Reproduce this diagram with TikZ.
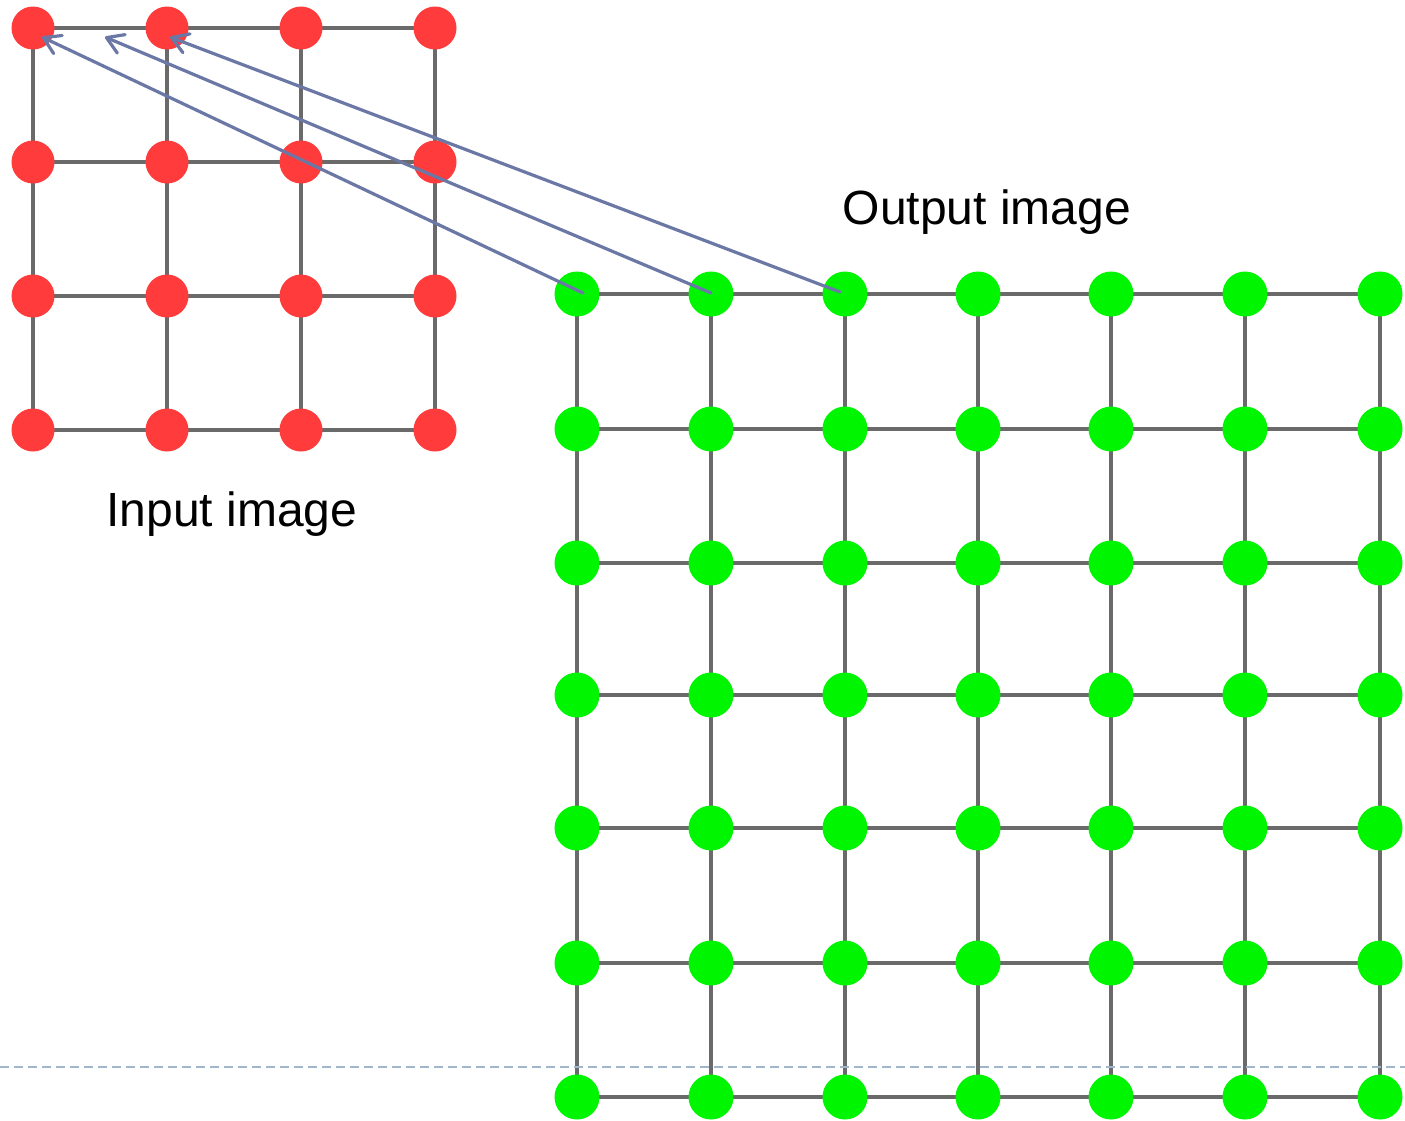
\documentclass[tikz,border=0pt]{standalone}
\usepackage{fontspec}
\setmainfont{Liberation Sans}
\usetikzlibrary{arrows.meta}
\definecolor{reddot}{HTML}{FF3B3B}
\definecolor{greendot}{HTML}{00F500}
\definecolor{gridgray}{HTML}{6A6A6A}
\definecolor{arrowblue}{HTML}{6B78A6}
\definecolor{dashblue}{HTML}{A0B6CA}
\tikzset{
  gridline/.style={draw=gridgray, line width=3.4pt},
  rdot/.style={circle, fill=reddot, inner sep=0pt, minimum size=43pt},
  gdot/.style={circle, fill=greendot, inner sep=0pt, minimum size=45pt},
  ptr/.style={draw=arrowblue, line width=3.2pt, line cap=round, -{Straight Barb[length=16pt,width=20pt,line width=3.2pt,round]}},
  lbl/.style={font=\fontsize{48}{56}\selectfont, inner sep=0pt},
}
\begin{document}
\begin{tikzpicture}[x=1pt, y=-1pt]
\useasboundingbox (0,0) rectangle (1405,1120);
\fill[white] (0,0) rectangle (1405,1120);
% red grid
\foreach \i/\x in {1/33,2/167,3/301,4/435} {
  \draw[gridline] (\x,28) -- (\x,430);
}
\foreach \j/\y in {1/28,2/162,3/296,4/430} {
  \draw[gridline] (33,\y) -- (435,\y);
}
\foreach \i/\x in {1/33,2/167,3/301,4/435} {
  \foreach \j/\y in {1/28,2/162,3/296,4/430} {
    \node[rdot] (r\i\j) at (\x,\y) {};
  }
}
% green grid
\foreach \x in {577,711,845,978,1111,1245,1380} {
  \draw[gridline] (\x,294) -- (\x,1097);
}
\foreach \y in {294,429,563,695,828,963,1097} {
  \draw[gridline] (577,\y) -- (1380,\y);
}
\foreach \i/\x in {1/577,2/711,3/845,4/978,5/1111,6/1245,7/1380} {
  \foreach \j/\y in {1/294,2/429,3/563,4/695,5/828,6/963,7/1097} {
    \node[gdot] (g\i\j) at (\x,\y) {};
  }
}
% dashed line
\coordinate (dl) at (0,1067);
\coordinate (dr) at (1405,1067);
\draw[dashblue, line width=2pt, dash pattern=on 9pt off 5pt] (dl) -- (dr);
% labels
\node[lbl] (out) at (987,212) {Output image};
\node[lbl] (in) at (232,514) {Input image};
% arrows
\coordinate (t1) at (42,37);
\coordinate (t2) at (105,37);
\coordinate (t3) at (170,37);
\coordinate (s1) at (583,293);
\coordinate (s2) at (711,293);
\coordinate (s3) at (840,292);
\draw[ptr] (s1) -- (t1);
\draw[ptr] (s2) -- (t2);
\draw[ptr] (s3) -- (t3);
\end{tikzpicture}
\end{document}
